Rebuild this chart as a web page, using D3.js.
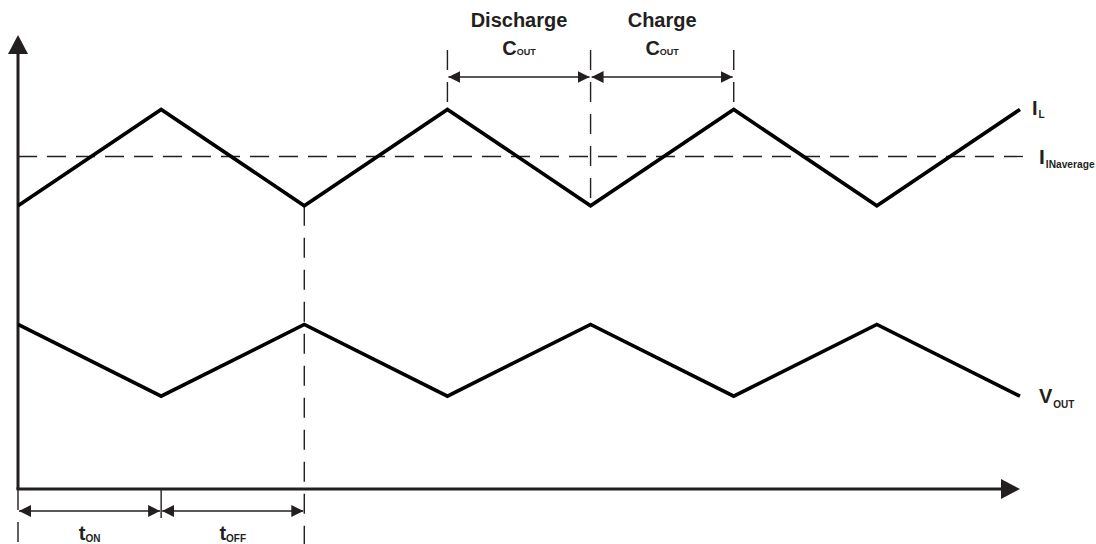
<!DOCTYPE html>
<html>
<head>
<meta charset="utf-8">
<script src="https://cdn.jsdelivr.net/npm/d3@7"></script>
<style>
  html, body { margin: 0; padding: 0; background: #fff; }
  svg { display: block; }
  text { font-family: "Liberation Sans", Arial, sans-serif; font-weight: bold; fill: #231f20; }
</style>
</head>
<body>
<svg id="chart"></svg>
<script>
// half-cycle knots (t in units of half a switching period)
const knots = [0, 1, 2, 3, 4, 5, 6, 7];
const inductorCurrent = [6.3, 8.45, 6.3, 8.45, 6.3, 8.45, 6.3, 8.45];
const outputVoltage = [3.65, 2.05, 3.65, 2.05, 3.65, 2.05, 3.65, 2.05];
const averageCurrent = 7.4;

const topSpans = [
  { label: 'Discharge', from: 3, to: 4 },
  { label: 'Charge', from: 4, to: 5 },
];
const bottomSpans = [
  { label: 'ON', from: 0, to: 1 },
  { label: 'OFF', from: 1, to: 2 },
];

const width = 1096, height = 544;
const ink = '#231f20';

const svg = d3.select('#chart').attr('width', width).attr('height', height);

const x = d3.scaleLinear().domain([0, 7]).range([18, 1020]);
const y = d3.scaleLinear().domain([0, 10]).range([488, 40]);

// arrowhead markers for dimension lines
const defs = svg.append('defs');
defs.append('marker')
  .attr('id', 'dimEnd')
  .attr('viewBox', '0 0 12 12')
  .attr('refX', 12).attr('refY', 6)
  .attr('markerWidth', 12).attr('markerHeight', 12)
  .attr('markerUnits', 'userSpaceOnUse')
  .attr('orient', 'auto-start-reverse')
  .append('path').attr('d', 'M0,0 L12,6 L0,12 Z').attr('fill', ink);

// axes
const axisY = y(0);
svg.append('line')
  .attr('x1', x(0)).attr('x2', x(0))
  .attr('y1', axisY + 1.5).attr('y2', 52)
  .attr('stroke', ink).attr('stroke-width', 3);
svg.append('path')
  .attr('d', `M${x(0) - 10},54 L${x(0)},35 L${x(0) + 10},54 Z`)
  .attr('fill', ink);

svg.append('line')
  .attr('x1', x(0) - 1.5).attr('x2', 1003)
  .attr('y1', axisY + 1).attr('y2', axisY + 1)
  .attr('stroke', ink).attr('stroke-width', 3);
svg.append('path')
  .attr('d', `M1001,${axisY - 9} L1020,${axisY + 1} L1001,${axisY + 11} Z`)
  .attr('fill', ink);

// average input current
svg.append('line')
  .attr('x1', x(0)).attr('x2', 1030)
  .attr('y1', y(averageCurrent)).attr('y2', y(averageCurrent))
  .attr('stroke', ink).attr('stroke-width', 1.3)
  .attr('stroke-dasharray', '19,10');

// vertical guides
const dash = '20,12';
const guide = (x0, y1, y2, dashed) => svg.append('line')
  .attr('x1', x0).attr('x2', x0).attr('y1', y1).attr('y2', y2)
  .attr('stroke', ink).attr('stroke-width', 1.4)
  .attr('stroke-dasharray', dashed ? dash : null);

guide(x(3), 50, y(inductorCurrent[3]), true);
guide(x(4), 50, y(inductorCurrent[4]), true);
guide(x(5), 50, y(inductorCurrent[5]), true);
guide(x(2), y(inductorCurrent[2]), height, true);
guide(x(0), axisY + 2, height, true);
guide(x(1), axisY + 2, 518, false);

// waveforms
const line = d3.line().x((d) => x(d[0])).y((d) => y(d[1]));
[inductorCurrent, outputVoltage].forEach((series) => {
  svg.append('path')
    .datum(knots.map((t, i) => [t, series[i]]))
    .attr('d', line)
    .attr('fill', 'none')
    .attr('stroke', '#000')
    .attr('stroke-width', 3.6)
    .attr('stroke-linejoin', 'miter');
});

// dimension lines
const dimension = (a, b, yy) => svg.append('line')
  .attr('x1', x(a) + 1).attr('x2', x(b) - 1)
  .attr('y1', yy).attr('y2', yy)
  .attr('stroke', ink).attr('stroke-width', 1.5)
  .attr('marker-start', 'url(#dimEnd)')
  .attr('marker-end', 'url(#dimEnd)');

topSpans.forEach((s) => {
  dimension(s.from, s.to, 77);
  const cx = (x(s.from) + x(s.to)) / 2;
  svg.append('text').attr('x', cx).attr('y', 27)
    .attr('text-anchor', 'middle').attr('font-size', 20).text(s.label);
  const t = svg.append('text').attr('x', cx).attr('y', 55)
    .attr('text-anchor', 'middle').attr('font-size', 20);
  t.append('tspan').text('C');
  t.append('tspan').attr('font-size', 9).text('OUT');
});

bottomSpans.forEach((s) => {
  dimension(s.from, s.to, 511);
  const cx = (x(s.from) + x(s.to)) / 2;
  const t = svg.append('text').attr('x', cx).attr('y', 540)
    .attr('text-anchor', 'middle').attr('font-size', 20);
  t.append('tspan').text('t');
  t.append('tspan').attr('font-size', 10).attr('dy', 1.5).text(s.label);
});

// series labels
const label = (x0, y0, main, sub, mainSize, subSize, subDy) => {
  const t = svg.append('text').attr('x', x0).attr('y', y0).attr('font-size', mainSize);
  t.append('tspan').text(main);
  t.append('tspan').attr('font-size', subSize).attr('dy', subDy).attr('dx', 1).text(sub);
};
label(1032, 115, 'I', 'L', 20, 10, 3);
label(1039, 164, 'I', 'INaverage', 21, 10.2, 4);
label(1039, 403, 'V', 'OUT', 20, 10, 5);
</script>
</body>
</html>
